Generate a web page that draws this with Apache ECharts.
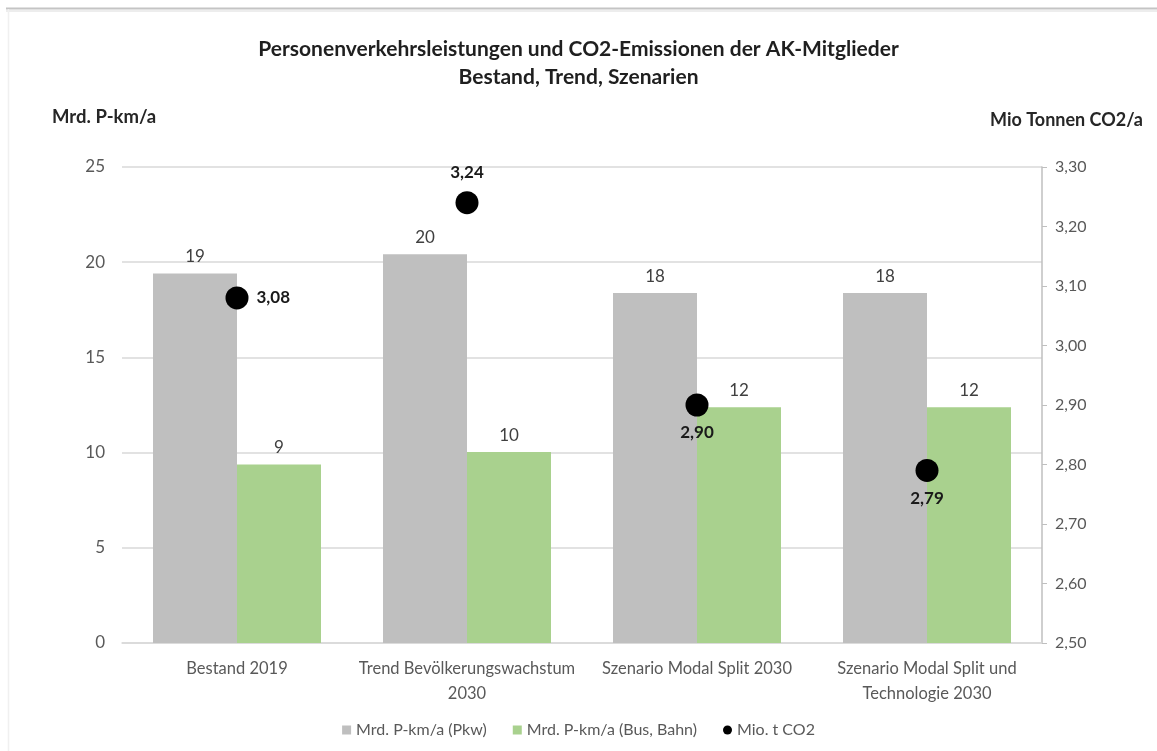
<!DOCTYPE html>
<html>
<head>
<meta charset="utf-8">
<script src="https://cdn.jsdelivr.net/npm/echarts@6/dist/echarts.min.js"></script>
<style>
  html, body { margin: 0; padding: 0; background: #fff; }
  #chart { width: 1157px; height: 751px; }
</style>
</head>
<body>
<div id="chart"></div>
<script>
// Kategorien (Bestand, Trend, Szenarien)
const categories = [
  'Bestand 2019',
  'Trend Bevölkerungswachstum\n2030',
  'Szenario Modal Split 2030',
  'Szenario Modal Split und\nTechnologie 2030'
];
// Personenverkehrsleistung, Mrd. P-km/a
const pkwValues = [19.41, 20.42, 18.38, 18.38];
const oevValues = [9.38, 10.03, 12.38, 12.38];
// CO2-Emissionen, Mio. t/a
const co2Values = [3.08, 3.24, 2.90, 2.79];
const co2LabelPos = ['right', 'top', 'bottom', 'bottom'];

const seriesNames = ['Mrd. P-km/a (Pkw)', 'Mrd. P-km/a (Bus, Bahn)', 'Mio. t CO2'];

const FONT = 'Lato';
const comma = v => v.toFixed(2).replace('.', ',');

const chart = echarts.init(document.getElementById('chart'), null, { renderer: 'canvas' });

chart.setOption({
  backgroundColor: '#ffffff',
  textStyle: { fontFamily: FONT },
  title: {
    text: 'Personenverkehrsleistungen und CO2-Emissionen der AK-Mitglieder\nBestand, Trend, Szenarien',
    left: 'center',
    top: 30,
    textStyle: { fontFamily: FONT, fontSize: 21, fontWeight: 'bold', color: '#1f1f1f', lineHeight: 28 }
  },
  graphic: [
    { type: 'line', shape: { x1: 6, y1: 8.5, x2: 1157, y2: 8.5 }, style: { stroke: '#c4c4c4', lineWidth: 2 } },
    { type: 'line', shape: { x1: 6, y1: 11, x2: 1157, y2: 11 }, style: { stroke: '#ededed', lineWidth: 2 } },
    { type: 'line', shape: { x1: 8.5, y1: 9, x2: 8.5, y2: 751 }, style: { stroke: '#f0f0f0', lineWidth: 1.5 } },
    { type: 'text', left: 52, top: 108, style: { text: 'Mrd. P-km/a', font: 'bold 18.5px ' + FONT, fill: '#262626' } },
    { type: 'text', right: 14, top: 111, style: { text: 'Mio Tonnen CO2/a', font: 'bold 18px ' + FONT, fill: '#262626' } }
  ],
  legend: {
    bottom: 8,
    left: 'center',
    itemGap: 26,
    itemWidth: 9,
    itemHeight: 9,
    textStyle: { fontFamily: FONT, fontSize: 16, color: '#595959' },
    data: [
      { name: seriesNames[0], icon: 'rect' },
      { name: seriesNames[1], icon: 'rect' },
      { name: seriesNames[2], icon: 'circle' }
    ]
  },
  grid: { left: 122, right: 115, top: 167, bottom: 108, containLabel: false },
  xAxis: {
    type: 'category',
    data: categories,
    axisLine: { show: true, lineStyle: { color: '#d9d9d9', width: 1.5 } },
    axisTick: { show: false },
    axisLabel: { fontFamily: FONT, fontSize: 16.5, color: '#595959', margin: 13, lineHeight: 25, interval: 0 }
  },
  yAxis: [
    {
      type: 'value',
      min: 0, max: 25, interval: 5,
      axisLine: { show: false },
      axisTick: { show: false },
      axisLabel: { fontFamily: FONT, fontSize: 17, color: '#595959', margin: 17 },
      splitLine: { show: true, lineStyle: { color: '#d9d9d9', width: 1.5 } }
    },
    {
      type: 'value',
      min: 2.5, max: 3.3, interval: 0.1,
      position: 'right',
      axisLine: { show: true, lineStyle: { color: '#bfbfbf', width: 1.5 } },
      axisTick: { show: true, length: 5, inside: false, lineStyle: { color: '#bfbfbf' } },
      axisLabel: { fontFamily: FONT, fontSize: 16, color: '#595959', margin: 13, formatter: comma },
      splitLine: { show: false }
    }
  ],
  series: [
    {
      name: seriesNames[0],
      type: 'bar',
      data: pkwValues,
      barWidth: 84,
      barGap: '0%',
      itemStyle: { color: '#bfbfbf' },
      label: {
        show: true, position: 'top', distance: 8,
        fontFamily: FONT, fontSize: 17, color: '#404040',
        formatter: p => String(Math.round(p.value))
      },
      z: 2
    },
    {
      name: seriesNames[1],
      type: 'bar',
      data: oevValues,
      barWidth: 84,
      barGap: '0%',
      itemStyle: { color: '#a9d18e' },
      label: {
        show: true, position: 'top', distance: 8,
        fontFamily: FONT, fontSize: 17, color: '#404040',
        formatter: p => String(Math.round(p.value))
      },
      z: 2
    },
    {
      name: seriesNames[2],
      type: 'scatter',
      yAxisIndex: 1,
      symbol: 'circle',
      symbolSize: 23,
      itemStyle: { color: '#000000', opacity: 1 },
      data: co2Values.map((v, i) => ({
        value: v,
        label: { position: co2LabelPos[i], distance: co2LabelPos[i] === 'top' ? 10 : 8 }
      })),
      label: {
        show: true,
        fontFamily: FONT, fontSize: 17, fontWeight: 'bold', color: '#1a1a1a',
        formatter: p => comma(p.value)
      },
      emphasis: { disabled: true },
      z: 5
    }
  ]
});
</script>
</body>
</html>
